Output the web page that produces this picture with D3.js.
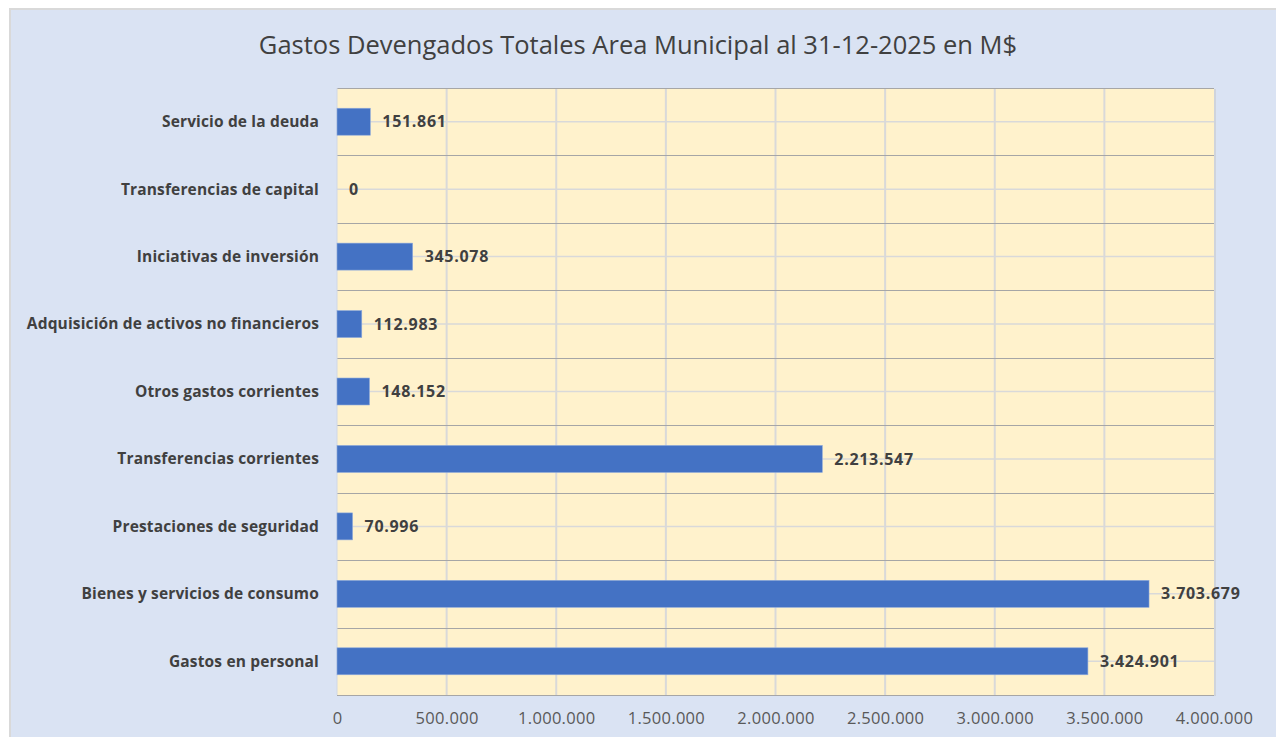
<!DOCTYPE html>
<html>
<head>
<meta charset="utf-8">
<script src="https://cdn.jsdelivr.net/npm/d3@7"></script>
<style>
  body { margin: 0; background: #fff; }
  svg { display: block; }
</style>
</head>
<body>
<div id="chart"></div>
<script>
// data, top category first
var categories = [
  "Servicio de la deuda",
  "Transferencias de capital",
  "Iniciativas de inversión",
  "Adquisición de activos no financieros",
  "Otros gastos corrientes",
  "Transferencias corrientes",
  "Prestaciones de seguridad",
  "Bienes y servicios de consumo",
  "Gastos en personal"
];
var values = [151861, 0, 345078, 112983, 148152, 2213547, 70996, 3703679, 3424901];
var tickValues = [0, 500000, 1000000, 1500000, 2000000, 2500000, 3000000, 3500000, 4000000];

var width = 1276, height = 737;
var plot = { left: 337, right: 1214, top: 88, bottom: 695 };

var fmt = function (v) {
  // spanish thousands separator
  return d3.format(",")(v).replace(/,/g, ".");
};

var svg = d3.select("#chart").append("svg")
  .attr("width", width)
  .attr("height", height);

// outer chart area
svg.append("rect")
  .attr("x", 10).attr("y", 9)
  .attr("width", width).attr("height", height)
  .attr("fill", "#dae3f3")
  .attr("stroke", "#d9d9d9")
  .attr("stroke-width", 2);

var x = d3.scaleLinear()
  .domain([0, 4000000])
  .range([plot.left, plot.right]);

var y = d3.scaleBand()
  .domain(categories)
  .range([plot.top, plot.bottom])
  .paddingInner(0.6)
  .paddingOuter(0.3);

var band = d3.scaleBand()
  .domain(categories)
  .range([plot.top, plot.bottom]);

// plot area with a small shadow on the right
svg.append("rect")
  .attr("x", plot.left + 2).attr("y", plot.top + 1)
  .attr("width", plot.right - plot.left).attr("height", plot.bottom - plot.top)
  .attr("fill", "#cfd4dc");
svg.append("rect")
  .attr("x", plot.left).attr("y", plot.top)
  .attr("width", plot.right - plot.left).attr("height", plot.bottom - plot.top)
  .attr("fill", "#fff2cc");

// vertical gridlines
svg.append("g")
  .selectAll("line")
  .data(tickValues.slice(1, -1))
  .enter().append("line")
  .attr("x1", function (d) { return x(d); })
  .attr("x2", function (d) { return x(d); })
  .attr("y1", plot.top).attr("y2", plot.bottom)
  .attr("stroke", "#d9d9d9")
  .attr("stroke-width", 2);

// light line through each category centre
svg.append("g")
  .selectAll("line")
  .data(categories)
  .enter().append("line")
  .attr("x1", plot.left).attr("x2", plot.right)
  .attr("y1", function (d) { return band(d) + band.bandwidth() / 2; })
  .attr("y2", function (d) { return band(d) + band.bandwidth() / 2; })
  .attr("stroke", "#d9d9d9")
  .attr("stroke-width", 1.5);

// category boundaries (darker)
var bounds = categories.map(function (d) { return band(d); }).concat([plot.bottom]);
svg.append("g")
  .selectAll("line")
  .data(bounds)
  .enter().append("line")
  .attr("x1", plot.left).attr("x2", plot.right)
  .attr("y1", function (d) { return Math.round(d) + 0.5; })
  .attr("y2", function (d) { return Math.round(d) + 0.5; })
  .attr("stroke", "#a6a6a6")
  .attr("stroke-width", 1);

// left axis line
svg.append("line")
  .attr("x1", plot.left).attr("x2", plot.left)
  .attr("y1", plot.top).attr("y2", plot.bottom)
  .attr("stroke", "#d0d7e5")
  .attr("stroke-width", 1);

// bars
svg.append("g")
  .selectAll("rect")
  .data(values)
  .enter().append("rect")
  .attr("x", x(0))
  .attr("y", function (d, i) { return y(categories[i]); })
  .attr("width", function (d) { return x(d) - x(0); })
  .attr("height", y.bandwidth())
  .attr("fill", "#4472c4")
  .attr("stroke", function (d) { return d > 0 ? "#8eaadb" : "none"; })
  .attr("stroke-width", 0.6);

// value labels
svg.append("g")
  .selectAll("text")
  .data(values)
  .enter().append("text")
  .attr("x", function (d) { return x(d) + 12; })
  .attr("y", function (d, i) { return band(categories[i]) + band.bandwidth() / 2; })
  .attr("dy", "0.35em")
  .attr("font-family", "Open Sans, sans-serif")
  .attr("font-weight", "bold")
  .attr("font-size", 16)
  .attr("letter-spacing", 0.7)
  .attr("fill", "#404040")
  .text(function (d) { return fmt(d); });

// category labels
svg.append("g")
  .selectAll("text")
  .data(categories)
  .enter().append("text")
  .attr("x", 319)
  .attr("y", function (d) { return band(d) + band.bandwidth() / 2; })
  .attr("dy", "0.35em")
  .attr("text-anchor", "end")
  .attr("font-family", "Open Sans, sans-serif")
  .attr("font-weight", "bold")
  .attr("font-size", 15.5)
  .attr("letter-spacing", 0.15)
  .attr("fill", "#404040")
  .text(function (d) { return d; });

// x axis
var xAxis = d3.axisBottom(x)
  .tickValues(tickValues)
  .tickSize(0)
  .tickPadding(17)
  .tickFormat(fmt);

var gx = svg.append("g")
  .attr("transform", "translate(0," + plot.bottom + ")")
  .call(xAxis);
gx.select(".domain").remove();
gx.selectAll("text")
  .attr("font-family", "Open Sans, sans-serif")
  .attr("font-size", 16.5)
  .attr("letter-spacing", 0.3)
  .attr("fill", "#595959");

// title
svg.append("text")
  .attr("x", 638)
  .attr("y", 54)
  .attr("text-anchor", "middle")
  .attr("font-family", "Open Sans, sans-serif")
  .attr("font-size", 25.5)
  .attr("fill", "#404040")
  .text("Gastos Devengados Totales Area Municipal al 31-12-2025 en M$");
</script>
</body>
</html>
